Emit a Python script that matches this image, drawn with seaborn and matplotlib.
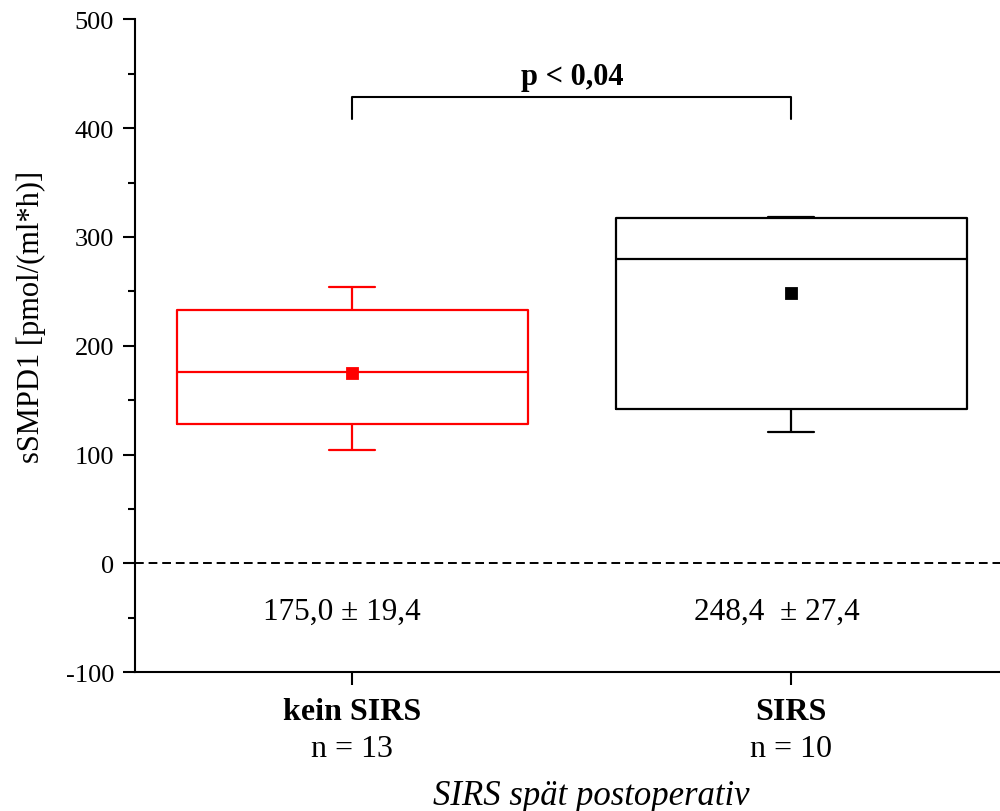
import matplotlib
matplotlib.use("Agg")
import matplotlib.pyplot as plt
import seaborn as sns
import pandas as pd
from matplotlib.ticker import MultipleLocator

# ---- data ----
groups = ["kein SIRS", "SIRS"]
n_counts = [13, 10]
# five-number summaries: lower whisker, Q1, median, Q3, upper whisker
kein_sirs_summary = [104.0, 128.5, 176.0, 232.5, 254.0]
sirs_summary = [120.5, 142.0, 280.0, 317.0, 318.5]
means = [175.0, 248.4]
mean_labels = ["175,0 ± 19,4", "248,4  ± 27,4"]
group_colors = ["#ff0000", "#000000"]
p_label = "p < 0,04"
y_ticks = [-100, 0, 100, 200, 300, 400, 500]

sns.set_style("ticks")
plt.rcParams["font.family"] = ["Liberation Serif", "DejaVu Serif"]
plt.rcParams["axes.unicode_minus"] = False
plt.rcParams["text.color"] = "black"
plt.rcParams["axes.labelcolor"] = "black"
plt.rcParams["xtick.color"] = "black"
plt.rcParams["ytick.color"] = "black"

df = pd.DataFrame({
    "group": [groups[0]] * len(kein_sirs_summary) + [groups[1]] * len(sirs_summary),
    "value": kein_sirs_summary + sirs_summary,
})
palette = dict(zip(groups, group_colors))

fig = plt.figure(figsize=(10, 8.12), dpi=100)
ax = fig.add_axes([0.135, 0.171, 0.865, 0.804])

sns.boxplot(data=df, x="group", y="value", hue="group", order=groups,
            palette=palette, fill=False, width=0.8, whis=(0, 100),
            linewidth=1.6, showfliers=False, capwidths=0.105,
            legend=False, ax=ax)

sns.pointplot(x=groups, y=means, hue=groups, order=groups, palette=palette,
              markers="s", linestyle="none", errorbar=None, markersize=7,
              legend=False, ax=ax)

ax.axhline(0, color="black", lw=1.4, ls=(0, (4.5, 2.5)), zorder=0)

# significance bracket
ax.plot([0, 0, 1, 1], [408, 428.5, 428.5, 408], color="black", lw=1.5)
ax.text(0.5, 447, p_label, ha="center", va="center", fontsize=22,
        fontweight="bold")

# mean +- SEM texts
offsets = [-0.023, -0.034]
for i, (lab, off) in enumerate(zip(mean_labels, offsets)):
    ax.text(i + off, -44, lab, ha="center", va="center", fontsize=22.5)

ax.set_xlim(-0.495, 1.475)
ax.set_ylim(-100, 500)
ax.set_yticks(y_ticks)
ax.yaxis.set_minor_locator(MultipleLocator(50))
ax.set_xticks(range(len(groups)))
ax.set_xticklabels(groups, fontweight="bold", fontsize=23)

for i, n in enumerate(n_counts):
    ax.annotate(f"n = {n}", xy=(i, 0), xycoords=("data", "axes fraction"),
                xytext=(0, -55), textcoords="offset points",
                ha="center", va="center", fontsize=23)

ax.tick_params(axis="y", which="major", length=9, width=1.5, direction="out",
               labelsize=19, pad=6)
ax.tick_params(axis="y", which="minor", length=5, width=1.5, direction="out")
ax.tick_params(axis="x", which="major", length=9, width=1.5, direction="out",
               labelsize=23, pad=9)

ax.set_ylabel("sSMPD1 [pmol/(ml*h)]", fontsize=22)
ax.yaxis.set_label_coords(-0.103, 0.545)
ax.set_xlabel("SIRS spät postoperativ", fontsize=25, style="italic")
ax.xaxis.set_label_coords(0.527, -0.163)

for side in ["top", "right"]:
    ax.spines[side].set_visible(False)
for side in ["left", "bottom"]:
    ax.spines[side].set_linewidth(1.5)
    ax.spines[side].set_color("black")

fig.savefig("out.png", dpi=100)
